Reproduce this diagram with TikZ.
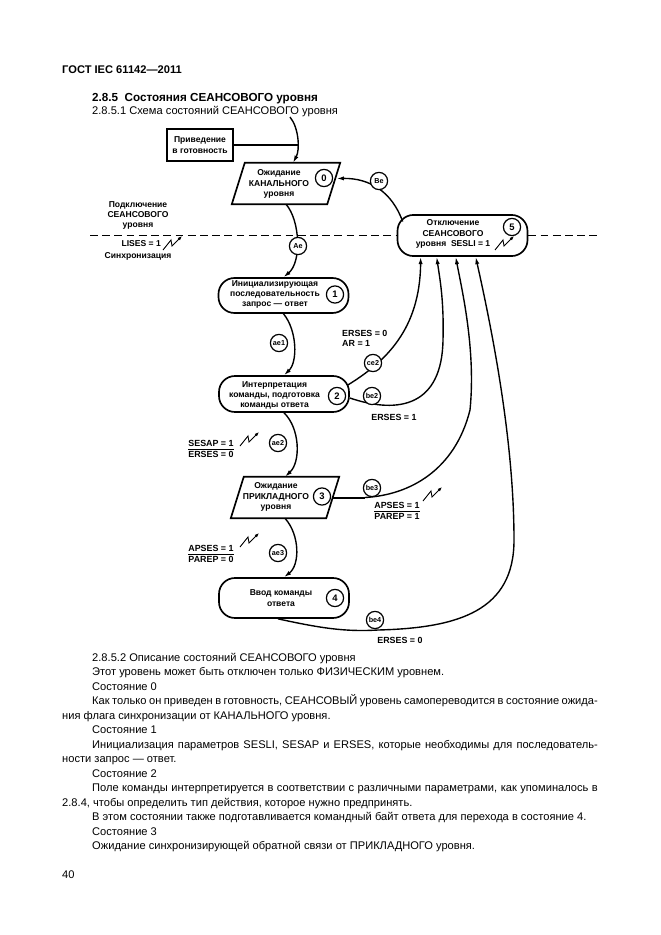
\documentclass[tikz,border=0pt]{standalone}
\usepackage{fontspec}
\setmainfont{Liberation Sans}
\usetikzlibrary{arrows.meta,calc}
\tikzset{
  zap/.pic={\draw[line width=0.8pt,-{Latex[length=4pt,width=3pt]}] (0,0)--(8,-10)--(9,-4)--(19,-14);},
}
\newcommand\paradraw[1]{\draw[line width=1.5pt] ($(#1.north west)+(6.5,0)$) -- ($(#1.north east)+(6.5,0)$) -- ($(#1.south east)+(-6.5,0)$) -- ($(#1.south west)+(-6.5,0)$) -- cycle;}
\begin{document}
\begin{tikzpicture}[x=0.9pt,y=-0.9pt,
  every node/.style={inner sep=0pt},
  stadium/.style={draw,line width=1.5pt,rounded corners=14.4pt,minimum width=117pt},
  pbox/.style={minimum width=85.5pt,minimum height=37pt},
  stxt/.style={font=\fontsize{7.7}{9.2}\selectfont\bfseries,align=center},
  num/.style={draw,circle,line width=1.1pt,minimum size=15.5pt,font=\fontsize{8.5}{8.5}\selectfont\bfseries},
  lab/.style={draw,circle,line width=1.1pt,minimum size=15.5pt,fill=white,font=\fontsize{6.5}{6.5}\selectfont\bfseries},
  conn/.style={line width=1.25pt},
  arr/.style={conn,-{Latex[length=6.5pt,width=3.8pt]}},
  cond/.style={font=\fontsize{8}{9.5}\selectfont\bfseries},
  body/.style={anchor=base west,font=\fontsize{10}{12}\selectfont},
]
\useasboundingbox (0,0) rectangle (661,935);
\fill[white] (0,0) rectangle (661,935);

% header
\node[anchor=base west,font=\fontsize{10}{12}\selectfont\bfseries] (hdr) at (62,73) {ГОСТ IEC 61142—2011};
\node[anchor=base west,font=\fontsize{10.5}{12}\selectfont\bfseries] (t1) at (92,101) {2.8.5\ \ Состояния СЕАНСОВОГО уровня};
\node[body] (t2) at (92,114.5) {2.8.5.1 Схема состояний СЕАНСОВОГО уровня};

% states
\node[draw,line width=1.9pt,minimum width=59.4pt,minimum height=28.8pt,stxt] (ready) at (200,145) {Приведение\\в готовность};

\node[pbox] (s0) at (286,183.5) {};
\paradraw{s0}
\node[stxt] (s0t) at (279,184) {Ожидание\\КАНАЛЬНОГО\\уровня};
\node[num] (n0) at (324,178) {0};

\node[stadium,minimum height=31.5pt] (s1) at (283.5,295.5) {};
\node[stxt] (s1t) at (275,294.5) {Инициализирующая\\последовательность\\запрос — ответ};
\node[num] (n1) at (335,294.5) {1};

\node[stadium,minimum height=32.4pt] (s2) at (284,394) {};
\node[stxt] (s2t) at (274.5,395.5) {Интерпретация\\команды, подготовка\\команды ответа};
\node[num] (n2) at (337,396) {2};

\node[pbox] (s3) at (285,497.5) {};
\paradraw{s3}
\node[stxt] (s3t) at (276,497) {Ожидание\\ПРИКЛАДНОГО\\уровня};
\node[num] (n3) at (322,496.5) {3};

\node[stadium,minimum height=36pt] (s4) at (284,598) {};
\node[stxt] (s4t) at (281,598) {Ввод команды\\ответа};
\node[num] (n4) at (335,598) {4};

\node[stadium,minimum height=37pt] (s5) at (462.5,235.5) {};
\node[stxt] (s5t) at (453,234) {Отключение\\СЕАНСОВОГО\\уровня\ \ SESLI = 1};
\node[num] (n5) at (512,227) {5};
\pic at (495,250) {zap};

% dashed boundary
\draw[line width=1.3pt,dash pattern=on 7pt off 4pt] (90,235.5) coordinate (dl) -- (s5.west);
\draw[line width=1.3pt,dash pattern=on 7pt off 4pt] (s5.east) -- (600,235.5) coordinate (dr);

% left labels
\node[stxt] (lp) at (138,215.5) {Подключение\\СЕАНСОВОГО\\уровня};
\node[stxt,anchor=east] (lises) at (161,244) {LISES = 1};
\pic at (163,250) {zap};
\node[stxt] (sync) at (138,256) {Синхронизация};

% connectors
\coordinate (a0) at (290,117);
\coordinate (j0) at (297.5,145);
\draw[arr] (a0) .. controls (299,128) and (300,150) .. ($(s0.north)+(7,0)$);
\draw[line width=1.5pt] (ready.east) -- (j0);

\draw[arr] (s0.south) .. controls (300,220) and (302,262) .. (s1.north);
\node[lab] (lAe) at (298,246) {Ae};

\draw[arr] (s1.south) .. controls (297,330) and (298,362) .. (s2.north);
\node[lab] (lae1) at (279,343) {ae1};

\draw[arr] (s2.south) .. controls (300,428) and (301,462) .. (s3.north);
\node[lab] (lae2) at (278,443) {ae2};
\node[cond,align=center] (f1) at (211,449) {SESAP = 1\\ERSES = 0};
\draw[line width=0.6pt] (f1.west) -- (f1.east);
\pic at (240,446) {zap};

\draw[arr] (s3.south) .. controls (300,535) and (300,565) .. (s4.north);
\node[lab] (lae3) at (278,553) {ae3};
\node[cond,align=center] (f3) at (211,554) {APSES = 1\\PAREP = 0};
\draw[line width=0.6pt] (f3.west) -- (f3.east);
\pic at (240,547) {zap};

% to state 5
\draw[arr] ($(s2.east)+(-2,-9)$) .. controls (385,362) and (420,330) .. ($(s5.south west)+(24,0)$);
\node[lab] (lce2) at (373,363) {ce2};
\node[cond,anchor=north west,align=left] (c1) at (342,330) {ERSES = 0\\AR = 1};

\draw[arr] ($(s2.east)+(0,4)$) .. controls (400,415) and (442,405) .. (443,340) .. controls (444,300) and (440,280) .. ($(s5.south west)+(40,0)$);
\node[lab] (lbe2) at (372,396) {be2};
\node[cond] (c2) at (394,417) {ERSES = 1};

\coordinate (j3) at (365,497.5);
\draw[line width=1.8pt] (s3.east) -- (j3);
\draw[arr] (j3) .. controls (410,495) and (455,470) .. (470,410) .. controls (476,350) and (462,290) .. ($(s5.south west)+(59,0)$);
\node[lab] (lbe3) at (372,488) {be3};
\node[cond,align=center] (f2) at (397,511) {APSES = 1\\PAREP = 1};
\draw[line width=0.6pt] (f2.west) -- (f2.east);
\pic at (423,501) {zap};

\draw[arr] ($(s4.south)+(-6,0)$) .. controls (320,628) and (345,632) .. (378,630) .. controls (460,628) and (514,610) .. (514,540) .. controls (514,440) and (492,330) .. ($(s5.south west)+(79,0)$);
\node[lab] (lbe4) at (375,620) {be4};
\node[cond] (c3) at (400,640) {ERSES = 0};

\draw[arr] ($(s5.west)+(6,-14)$) .. controls (392,192) and (370,178) .. ($(s0.east)+(3,-5)$);
\node[lab] (lBe) at (379,181) {Be};

% body text
\node[body] (b1) at (92,661) {2.8.5.2 Описание состояний СЕАНСОВОГО уровня};
\node[body] (b2) at (92,675.5) {Этот уровень может быть отключен только ФИЗИЧЕСКИМ уровнем.};
\node[body] (b3) at (92,690) {Состояние 0};
\node[body] (b4) at (92,704.5) {\makebox[455pt][s]{Как только он приведен в готовность, СЕАНСОВЫЙ уровень самопереводится в состояние ожида-}};
\node[body] (b5) at (62,719) {ния флага синхронизации от КАНАЛЬНОГО уровня.};
\node[body] (b6) at (92,733.5) {Состояние 1};
\node[body] (b7) at (92,748) {\makebox[455pt][s]{Инициализация параметров SESLI, SESAP и ERSES, которые необходимы для последователь-}};
\node[body] (b8) at (62,762.5) {ности запрос — ответ.};
\node[body] (b9) at (92,777) {Состояние 2};
\node[body] (b10) at (92,791.5) {\makebox[455pt][s]{Поле команды интерпретируется в соответствии с различными параметрами, как упоминалось в}};
\node[body] (b11) at (62,806) {2.8.4, чтобы определить тип действия, которое нужно предпринять.};
\node[body] (b12) at (92,820.5) {В этом состоянии также подготавливается командный байт ответа для перехода в состояние 4.};
\node[body] (b13) at (92,835) {Состояние 3};
\node[body] (b14) at (92,849.5) {Ожидание синхронизирующей обратной связи от ПРИКЛАДНОГО уровня.};
\node[body] (pg) at (62,878) {40};
\end{tikzpicture}
\end{document}
